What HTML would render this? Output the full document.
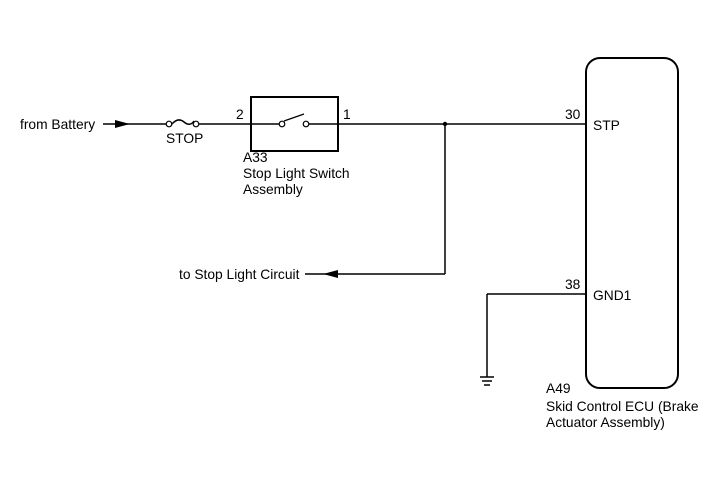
<!DOCTYPE html>
<html><head><style>body{margin:0;background:#fff}svg{display:block}</style></head><body>
<svg width="713" height="481" viewBox="0 0 713 481" xmlns="http://www.w3.org/2000/svg" font-family="Liberation Sans, Arial, sans-serif" font-size="13.8" fill="#000">
<g stroke="#000" stroke-width="1.5" fill="none">
<line x1="103" y1="124" x2="167" y2="124"/>
<path d="M172 124 q6 -7 12 -2 q6 5 10 -1"/>
<line x1="199" y1="124" x2="251" y2="124"/>
<rect x="251" y="97" width="87" height="54" stroke-width="2"/>
<line x1="251" y1="124" x2="279" y2="124"/>
<line x1="309" y1="124" x2="586" y2="124"/>
<line x1="284" y1="121" x2="304" y2="114" stroke-width="1.2"/>
<line x1="445" y1="124" x2="445" y2="274"/>
<line x1="305" y1="274" x2="445" y2="274"/>
<rect x="586" y="58" width="92" height="330" rx="14" stroke-width="2"/>
<line x1="487" y1="294" x2="586" y2="294"/>
<line x1="487" y1="294" x2="487" y2="377"/>
<line x1="480" y1="377" x2="494" y2="377"/>
<line x1="482" y1="381" x2="492" y2="381"/>
<line x1="484" y1="385" x2="490" y2="385"/>
</g>
<g fill="#fff" stroke="#000" stroke-width="1.2">
<circle cx="169" cy="124" r="2.8"/><circle cx="196" cy="124" r="2.8"/>
<circle cx="282" cy="124" r="2.8"/><circle cx="306" cy="124" r="2.8"/>
</g>
<circle cx="445" cy="124" r="2.2"/>
<polygon points="130,124 115,120 115,128"/>
<polygon points="323,274 338,270 338,278"/>
<text x="20" y="129">from Battery</text>
<text x="166" y="143">STOP</text>
<text x="236" y="119">2</text>
<text x="343" y="119">1</text>
<text x="243" y="162">A33</text>
<text x="243" y="178">Stop Light Switch</text>
<text x="243" y="194">Assembly</text>
<text x="565" y="119">30</text>
<text x="593" y="130">STP</text>
<text x="565" y="289">38</text>
<text x="593" y="300">GND1</text>
<text x="179" y="279">to Stop Light Circuit</text>
<text x="546" y="393">A49</text>
<text x="546" y="411">Skid Control ECU (Brake</text>
<text x="546" y="427">Actuator Assembly)</text>
</svg>
</body></html>
